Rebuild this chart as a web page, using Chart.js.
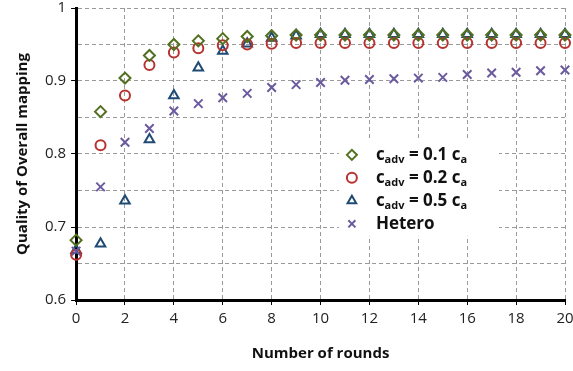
<!DOCTYPE html>
<html>
<head>
<meta charset="utf-8">
<script src="https://cdn.jsdelivr.net/npm/chart.js@4.4.1/dist/chart.umd.min.js"></script>
<style>
  html, body { margin: 0; padding: 0; background: #fff; }
  #wrap { width: 573px; height: 371px; position: relative; }
</style>
</head>
<body>
<div id="wrap"><canvas id="chartRounds"></canvas></div>
<script>
// values
var rounds = [0, 1, 2, 3, 4, 5, 6, 7, 8, 9, 10, 11, 12, 13, 14, 15, 16, 17, 18, 19, 20];
var adv01 = [0.682, 0.858, 0.904, 0.935, 0.950, 0.955, 0.958, 0.961, 0.962, 0.963, 0.963, 0.963, 0.963, 0.963, 0.963, 0.963, 0.963, 0.963, 0.963, 0.963, 0.963];
var adv02 = [0.662, 0.812, 0.880, 0.922, 0.939, 0.945, 0.949, 0.950, 0.951, 0.952, 0.952, 0.952, 0.952, 0.952, 0.952, 0.952, 0.952, 0.952, 0.952, 0.952, 0.952];
var adv05 = [0.668, 0.677, 0.736, 0.820, 0.880, 0.918, 0.941, 0.951, 0.959, 0.962, 0.964, 0.964, 0.964, 0.964, 0.964, 0.964, 0.964, 0.964, 0.964, 0.964, 0.964];
var hetero = [0.667, 0.755, 0.816, 0.835, 0.859, 0.869, 0.877, 0.883, 0.891, 0.895, 0.898, 0.901, 0.902, 0.903, 0.904, 0.905, 0.909, 0.911, 0.912, 0.914, 0.915];
var xTicks = [0, 2, 4, 6, 8, 10, 12, 14, 16, 18, 20];

var legendItems = [
    { label: 'c', sub: 'adv', rest: ' = 0.1 c', sub2: 'a', style: 'rectRot', color: '#52701f' },
    { label: 'c', sub: 'adv', rest: ' = 0.2 c', sub2: 'a', style: 'circle', color: '#b5322f' },
    { label: 'c', sub: 'adv', rest: ' = 0.5 c', sub2: 'a', style: 'triangle', color: '#1f4a73' },
    { label: 'Hetero', style: 'crossRot', color: '#6b5a9e' }
];

function toPoints(ys) {
    return rounds.map(function (r, i) { return { x: r, y: ys[i] }; });
}

function makeSet(ys, style, color, radius) {
    return {
        data: toPoints(ys),
        pointStyle: style,
        pointRadius: radius,
        pointBorderWidth: 2,
        pointBorderColor: color,
        pointBackgroundColor: 'rgba(0,0,0,0)',
        showLine: false,
        clip: false
    };
}

var boxLegend = {
    id: 'boxLegend',
    afterDatasetsDraw: function (chart) {
        var ctx = chart.ctx;
        var x = chart.scales.x, y = chart.scales.y;
        var left = x.getPixelForValue(10.75), right = x.getPixelForValue(17.3);
        var top = y.getPixelForValue(0.818), bottom = y.getPixelForValue(0.688);
        ctx.save();
        ctx.fillStyle = '#fff';
        ctx.fillRect(left, top, right - left, bottom - top);
        legendItems.forEach(function (it, i) {
            var cy = top + 14 + i * 23;
            var mx = left + 13;
            ctx.strokeStyle = it.color;
            ctx.fillStyle = 'rgba(0,0,0,0)';
            ctx.lineWidth = 2;
            Chart.helpers.drawPoint(ctx, { pointStyle: it.style, radius: 5, borderWidth: 2 }, mx, cy);
            ctx.fillStyle = '#111';
            ctx.textBaseline = 'middle';
            var tx = left + 37;
            if (it.sub) {
                ctx.font = 'bold 17px "Open Sans"';
                ctx.fillText(it.label, tx, cy);
                tx += ctx.measureText(it.label).width;
                ctx.font = 'bold 11px "Open Sans"';
                ctx.fillText(it.sub, tx, cy + 5);
                tx += ctx.measureText(it.sub).width;
                ctx.font = 'bold 17px "Open Sans"';
                ctx.fillText(it.rest, tx, cy);
                tx += ctx.measureText(it.rest).width;
                ctx.font = 'bold 11px "Open Sans"';
                ctx.fillText(it.sub2, tx, cy + 5);
            } else {
                ctx.font = 'bold 17px "Open Sans"';
                ctx.fillText(it.label, tx, cy);
            }
        });
        ctx.restore();
    }
};

var ctx = document.getElementById('chartRounds');
var chart = new Chart(ctx, {
    type: 'scatter',
    data: {
        datasets: [
            makeSet(hetero, 'crossRot', '#6b5a9e', 6),
            makeSet(adv01, 'rectRot', '#52701f', 5.5),
            makeSet(adv02, 'circle', '#b5322f', 5),
            makeSet(adv05, 'triangle', '#1f4a73', 5.5)
        ]
    },
    options: {
        responsive: true,
        maintainAspectRatio: false,
        animation: false,
        layout: { padding: { top: 7, right: 7, left: 10, bottom: 4 } },
        plugins: { legend: { display: false }, tooltip: { enabled: false } },
        scales: {
            x: {
                type: 'linear',
                min: 0,
                max: 20,
                afterBuildTicks: function (axis) {
                    axis.ticks = xTicks.map(function (v) { return { value: v }; });
                },
                afterFit: function (s) { s.paddingRight = 0; },
                ticks: { font: { family: 'Open Sans', size: 15 }, color: '#222', padding: 5, maxRotation: 0 },
                grid: { color: '#9a9a9a', tickColor: '#000', tickLength: 5, tickBorderDash: [] },
                border: { color: '#000', width: 3, dash: [4, 3] },
                title: { display: true, text: 'Number of rounds', font: { family: 'Open Sans', size: 15, weight: 'bold' }, color: '#111', padding: { top: 12 } }
            },
            y: {
                min: 0.6,
                max: 1,
                afterFit: function (s) { s.paddingTop = 0; },
                ticks: {
                    stepSize: 0.05,
                    font: { family: 'Open Sans', size: 15 },
                    color: '#222',
                    padding: 5,
                    callback: function (v) {
                        var r = Math.round(v * 100);
                        if (r % 10 !== 0) return '';
                        return r === 100 ? '1' : (r / 100).toFixed(1);
                    }
                },
                grid: {
                    color: '#9a9a9a',
                    tickLength: 5,
                    tickBorderDash: [],
                    tickColor: function (c) {
                        return Math.round(c.tick.value * 100) % 10 === 0 ? '#000' : 'rgba(0,0,0,0)';
                    }
                },
                border: { color: '#000', width: 3, dash: [4, 3] },
                title: { display: true, text: 'Quality of Overall mapping', font: { family: 'Open Sans', size: 15, weight: 'bold' }, color: '#111', padding: { bottom: 8 } }
            }
        }
    },
    plugins: [boxLegend]
});
</script>
</body>
</html>
